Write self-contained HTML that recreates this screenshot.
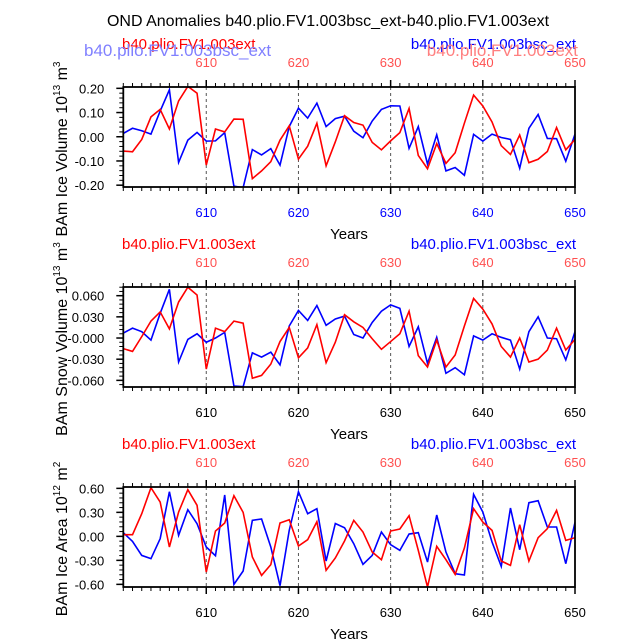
<!DOCTYPE html>
<html><head><meta charset="utf-8"><style>
body{margin:0;background:#fff;}
svg{display:block;font-family:"Liberation Sans",sans-serif;}
</style></head><body>
<svg id="chart" width="638" height="639" viewBox="0 0 638 639" xmlns="http://www.w3.org/2000/svg">
<text x="328" y="26" font-size="16" text-anchor="middle">OND Anomalies b40.plio.FV1.003bsc_ext-b40.plio.FV1.003ext</text>
</svg>
<script>
const years = [601,602,603,604,605,606,607,608,609,610,611,612,613,614,615,616,617,618,619,620,621,622,623,624,625,626,627,628,629,630,631,632,633,634,635,636,637,638,639,640,641,642,643,644,645,646,647,648,649,650];
const iceVolBlue = [0.014,0.035,0.025,0.011,0.106,0.194,-0.106,-0.014,0.018,-0.018,-0.017,0.017,-0.204,-0.21,-0.053,-0.075,-0.049,-0.117,0.042,0.118,0.077,0.139,0.042,0.075,0.085,0.023,-0.004,0.065,0.113,0.128,0.127,-0.048,0.042,-0.113,0.008,-0.141,-0.127,-0.159,0.01,-0.018,0.011,-0.003,-0.011,-0.13,0.035,0.092,-0.007,-0.008,-0.101,0.011];
const iceVolRed = [-0.059,-0.062,-0.011,0.082,0.113,0.032,0.148,0.208,0.18,-0.117,0.032,0.02,0.073,0.072,-0.173,-0.141,-0.103,-0.014,0.045,-0.092,-0.039,0.056,-0.12,-0.021,0.087,0.059,0.048,-0.023,-0.054,-0.017,0.017,0.117,-0.077,-0.132,-0.028,-0.11,-0.066,0.056,0.172,0.127,0.061,-0.037,-0.073,0.007,-0.107,-0.093,-0.061,0.038,-0.054,-0.011];
const snowBlue = [0.007,0.014,0.009,-0.003,0.035,0.069,-0.034,-0.002,0.006,-0.006,0,0.008,-0.068,-0.069,-0.021,-0.027,-0.02,-0.038,0.017,0.039,0.025,0.046,0.018,0.027,0.031,0.005,0,0.022,0.038,0.047,0.042,-0.012,0.016,-0.036,0.001,-0.05,-0.042,-0.052,0.003,-0.003,0.006,0.001,-0.003,-0.044,0.009,0.03,0,-0.001,-0.031,0.009];
const snowRed = [-0.015,-0.019,0.002,0.024,0.037,0.013,0.051,0.072,0.061,-0.044,0.014,0.009,0.024,0.021,-0.057,-0.053,-0.037,-0.005,0.015,-0.028,-0.014,0.019,-0.035,-0.006,0.033,0.023,0.015,-0.001,-0.016,-0.005,0.006,0.038,-0.025,-0.041,-0.003,-0.041,-0.024,0.017,0.056,0.041,0.02,-0.012,-0.027,0,-0.034,-0.03,-0.017,0.014,-0.017,-0.002];
const areaBlue = [0.046,-0.063,-0.238,-0.279,-0.029,0.558,0.013,0.333,0.158,-0.133,-0.242,0.517,-0.6,-0.433,0.2,0.217,-0.133,-0.617,0.075,0.558,0.283,0.346,-0.308,0.16,0.108,-0.092,-0.35,-0.238,0.054,-0.104,-0.175,0.029,0.046,-0.321,0.267,-0.196,-0.467,-0.483,0.525,0.304,-0.071,-0.375,0.354,-0.167,0.421,0.446,0.117,0.117,-0.342,0.175];
const areaRed = [0.021,0.021,0.283,0.608,0.429,-0.133,0.304,0.583,0.388,-0.446,0.067,0.167,0.508,0.3,-0.258,-0.488,-0.354,0.167,0.208,-0.121,-0.042,0.183,-0.425,-0.27,-0.058,0.2,0.054,-0.196,-0.292,0.067,0.092,0.258,-0.175,-0.633,-0.125,-0.292,-0.475,-0.146,0.346,0.179,0.075,-0.308,-0.363,0.146,-0.308,-0.017,0.096,0.325,-0.05,-0.017];
const xTicks = [610,620,630,640,650];
const iceTicks = [0.2,0.1,0,-0.1,-0.2];
const iceTickLabels = ["0.20","0.10","0.00","-0.10","-0.20"];
const snowTicks = [0.06,0.03,0,-0.03,-0.06];
const snowTickLabels = ["0.060","0.030","-0.000","-0.030","-0.060"];
const areaTicks = [0.6,0.3,0,-0.3,-0.6];
const areaTickLabels = ["0.60","0.30","0.00","-0.30","-0.60"];

const NS="http://www.w3.org/2000/svg";
const svg=document.getElementById('chart');
function mk(tag,attrs,parent){const e=document.createElementNS(NS,tag);for(const k in attrs)e.setAttribute(k,attrs[k]);(parent||svg).appendChild(e);return e;}
const X0=123.3,X1=575,XMIN=601,XMAX=650;
function xs(v){return X0+(v-XMIN)/(XMAX-XMIN)*(X1-X0);}

function panel(id,top,ymaxV,yminV,ticks,tickLabels,minorStep,blue,red,titleMain,titleExp,unitSup,unitBase,bottomColor,overlay,titleOff){
  const bottom=top+100;
  const g=mk('g',{});
  
  
  function ys(v){return top+(ymaxV-v)/(ymaxV-yminV)*(bottom-top);}
  [610,620,630,640].forEach(t=>{
    const l=mk('line',{x1:xs(t),x2:xs(t),y1:top,y2:bottom,stroke:'#555','stroke-width':1,'stroke-dasharray':'3,3'},g);
    
    
  });
  for(let yv=XMIN;yv<=XMAX;yv++){
    const maj=yv%10===0;const L=maj?7:4;
    mk('line',{x1:xs(yv),x2:xs(yv),y1:top,y2:top-L,stroke:'#000','stroke-width':maj?1.5:1},g);
    mk('line',{x1:xs(yv),x2:xs(yv),y1:bottom,y2:bottom+L,stroke:'#000','stroke-width':maj?1.5:1},g);
  }
  const n=Math.round((ymaxV-yminV)/minorStep);
  for(let i=0;i<=n+1;i++){const v=Math.ceil(yminV/minorStep)*minorStep+i*minorStep;if(v>ymaxV)break;
    mk('line',{x1:X0,x2:X0-4,y1:ys(v),y2:ys(v),stroke:'#000','stroke-width':1},g);}
  ticks.forEach((t,i)=>{
    mk('line',{x1:X0,x2:X0-7,y1:ys(t),y2:ys(t),stroke:'#000','stroke-width':1.5},g);
    const tx=mk('text',{x:X0-19,y:ys(t)+5,'font-size':13,'text-anchor':'end'},g);tx.textContent=tickLabels[i];
    
    
  });
  xTicks.forEach(t=>{
    const a=mk('text',{x:xs(t),y:top-20,'font-size':13,'text-anchor':'middle',fill:'#ff5050'},g);a.textContent=t;
    
    
    const b=mk('text',{x:xs(t),y:bottom+30,'font-size':13,'text-anchor':'middle',fill:bottomColor},g);b.textContent=t;
    
    
  });
  const cp=mk('clipPath',{id:id+'-clip'},g);mk('rect',{x:X0,y:top,width:X1-X0,height:100},cp);
  const lg=mk('g',{'clip-path':'url(#'+id+'-clip)'},g);
  const pb=mk('polyline',{points:blue.map((v,i)=>xs(years[i])+','+ys(v)).join(' '),fill:'none',stroke:'#0000ff','stroke-width':1.6},lg);
  
  
  const pr=mk('polyline',{points:red.map((v,i)=>xs(years[i])+','+ys(v)).join(' '),fill:'none',stroke:'#ff0000','stroke-width':1.6},lg);
  
  
  const box=mk('rect',{x:X0,y:top,width:X1-X0,height:100,fill:'none',stroke:'#000','stroke-width':1.8},g);
  
  
  const rl=mk('text',{x:122,y:top-38,'font-size':15,fill:'#ff0000'},g);rl.textContent='b40.plio.FV1.003ext';
  
  
  const bl=mk('text',{x:576,y:top-38,'font-size':15,fill:'#0000ff','text-anchor':'end'},g);bl.textContent='b40.plio.FV1.003bsc_ext';
  
  
  if(overlay){
    const o1=mk('text',{x:84,y:top-31,'font-size':17,fill:'#8080ff'},g);o1.textContent='b40.plio.FV1.003bsc_ext';
    
    
    const o2=mk('text',{x:578,y:top-31,'font-size':17,fill:'#ff8080','text-anchor':'end'},g);o2.textContent='b40.plio.FV1.003ext';
    
    
  }
  const yt=mk('text',{transform:'translate(67,'+(top+titleOff)+') rotate(-90)','font-size':16,'text-anchor':'middle'},g);
  
  
  yt.innerHTML=titleMain+' 10<tspan dy="-7" font-size="10">'+titleExp+'</tspan><tspan dy="7"> '+unitBase+'</tspan><tspan dy="-7" font-size="10">'+unitSup+'</tspan>';
  const xt=mk('text',{x:349,y:bottom+52,'font-size':15,'text-anchor':'middle'},g);xt.textContent='Years';
  
  
}
panel('ice-volume',87,0.2055,-0.2075,iceTicks,iceTickLabels,0.02,iceVolBlue,iceVolRed,'BAm Ice Volume','13','3','m','#0000ff',true,62);
panel('snow-volume',287,0.0723,-0.0694,snowTicks,snowTickLabels,0.006,snowBlue,snowRed,'BAm Snow Volume','13','3','m','#000',false,52);
panel('ice-area',487,0.617,-0.633,areaTicks,areaTickLabels,0.06,areaBlue,areaRed,'BAm Ice Area','12','2','m','#000',false,52);
</script>
</body></html>
